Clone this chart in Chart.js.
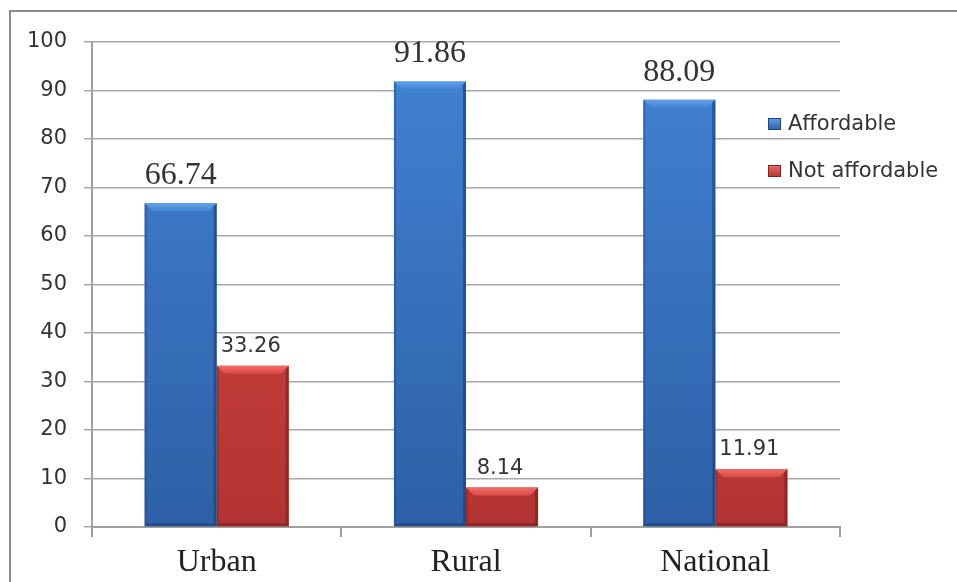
<!DOCTYPE html>
<html lang="en">
<head>
  <meta charset="UTF-8" />
  <title>Affordability by area</title>
  <script src="https://cdn.jsdelivr.net/npm/chart.js"></script>
  <style>
    * { box-sizing: border-box; margin: 0; padding: 0; }
    body { background: #fff; }
    #wrap { width: 957px; height: 582px; position: relative; }
  </style>
</head>
<body>
  <div id="wrap"><canvas id="chart"></canvas></div>

  <script>
    const categories = ['Urban', 'Rural', 'National'];
    const seriesNames = ['Affordable', 'Not affordable'];
    const affordable = [66.74, 91.86, 88.09];
    const notAffordable = [33.26, 8.14, 11.91];
    const yMin = 0, yMax = 100, yStep = 10;

    const SERIF = '"Liberation Serif", "Times New Roman", serif';
    const SANS = '"DejaVu Sans", Verdana, sans-serif';

    // body colour, top bevel, dark edge
    const palette = [
      { top: '#4283d4', bottom: '#2d60a6', light: '#62a0ea', dark: '#1d4680' },
      { top: '#da4a46', bottom: '#b23432', light: '#f06c69', dark: '#862222' }
    ];

    function barFill(idx) {
      return (ctx) => {
        const area = ctx.chart.chartArea;
        if (!area) return palette[idx].top;
        const g = ctx.chart.ctx.createLinearGradient(0, area.top, 0, area.bottom);
        g.addColorStop(0, palette[idx].top);
        g.addColorStop(1, palette[idx].bottom);
        return g;
      };
    }

    // white page plus the thin frame along the top and left
    const framePlugin = {
      id: 'frame',
      beforeDraw(chart) {
        const c = chart.ctx;
        c.save();
        c.fillStyle = '#fff';
        c.fillRect(0, 0, chart.width, chart.height);
        c.strokeStyle = '#8c8c8c';
        c.lineWidth = 2;
        c.beginPath();
        c.moveTo(10, chart.height);
        c.lineTo(10, 11);
        c.lineTo(chart.width, 11);
        c.stroke();
        c.restore();
      }
    };

    // bevelled edges on each bar
    const bevelPlugin = {
      id: 'bevel',
      afterDatasetsDraw(chart) {
        const c = chart.ctx;
        chart.data.datasets.forEach((ds, i) => {
          const p = palette[i];
          chart.getDatasetMeta(i).data.forEach(bar => {
            const { x, y, base, width } = bar.getProps(['x', 'y', 'base', 'width'], true);
            const l = x - width / 2, r = x + width / 2;
            const b = 8;
            c.save();
            // top face
            const tg = c.createLinearGradient(0, y, 0, y + b);
            tg.addColorStop(0, p.light);
            tg.addColorStop(1, p.top);
            c.fillStyle = tg;
            c.beginPath();
            c.moveTo(l, y); c.lineTo(r, y); c.lineTo(r - b, y + b); c.lineTo(l + b, y + b);
            c.closePath(); c.fill();
            // right edge
            c.fillStyle = p.dark;
            c.globalAlpha = 0.75;
            c.beginPath();
            c.moveTo(r, y); c.lineTo(r, base); c.lineTo(r - 3, base - 3); c.lineTo(r - 3, y + 3);
            c.closePath(); c.fill();
            // bottom edge
            c.beginPath();
            c.moveTo(l, base); c.lineTo(r, base); c.lineTo(r - 3, base - 3); c.lineTo(l + 2, base - 3);
            c.closePath(); c.fill();
            // left edge
            c.globalAlpha = 0.45;
            c.beginPath();
            c.moveTo(l, y); c.lineTo(l + 2, y + 2); c.lineTo(l + 2, base - 2); c.lineTo(l, base);
            c.closePath(); c.fill();
            c.restore();
          });
        });
      }
    };

    // value labels above the bars
    const valueLabels = {
      id: 'valueLabels',
      afterDatasetsDraw(chart) {
        const c = chart.ctx;
        const styles = [
          { font: '32px ' + SERIF, gap: 19 },
          { font: '21px ' + SANS, gap: 14 }
        ];
        chart.data.datasets.forEach((ds, i) => {
          chart.getDatasetMeta(i).data.forEach((bar, j) => {
            c.save();
            c.font = styles[i].font;
            c.fillStyle = '#333';
            c.textAlign = 'center';
            c.textBaseline = 'alphabetic';
            c.fillText(ds.data[j].toFixed(2), bar.x + (i === 1 ? -2 : 0), bar.y - styles[i].gap);
            c.restore();
          });
        });
      }
    };

    // legend drawn over the right side of the plot
    const sideLegend = {
      id: 'sideLegend',
      afterDraw(chart) {
        const c = chart.ctx;
        const x = 768, rows = [124, 171];
        chart.data.datasets.forEach((ds, i) => {
          const cy = rows[i];
          const p = palette[i];
          c.save();
          const g = c.createLinearGradient(0, cy - 6, 0, cy + 6);
          g.addColorStop(0, p.light);
          g.addColorStop(1, p.bottom);
          c.fillStyle = g;
          c.fillRect(x, cy - 6, 13, 12);
          c.strokeStyle = p.dark;
          c.lineWidth = 1;
          c.strokeRect(x + 0.5, cy - 5.5, 12, 11);
          c.font = '21px ' + SANS;
          c.fillStyle = '#333';
          c.textBaseline = 'middle';
          c.textAlign = 'left';
          c.fillText(ds.label, x + 20, cy + 1);
          c.restore();
        });
      }
    };

    new Chart(document.getElementById('chart'), {
      type: 'bar',
      data: {
        labels: categories,
        datasets: [
          { label: seriesNames[0], data: affordable, backgroundColor: barFill(0) },
          { label: seriesNames[1], data: notAffordable, backgroundColor: barFill(1) }
        ]
      },
      options: {
        responsive: true,
        maintainAspectRatio: false,
        animation: false,
        devicePixelRatio: 1,
        categoryPercentage: 0.578,
        barPercentage: 1,
        layout: { padding: { top: 42, right: 117, left: 0, bottom: 0 } },
        plugins: { legend: { display: false }, tooltip: { enabled: false } },
        scales: {
          x: {
            grid: { drawOnChartArea: false, color: '#a0a0a0', lineWidth: 2, tickLength: 10 },
            border: { color: '#a0a0a0', width: 2 },
            ticks: { color: '#222', font: { family: SERIF, size: 32 }, padding: 6 },
            afterFit(scale) { scale.height = 55; }
          },
          y: {
            min: yMin,
            max: yMax,
            grid: { color: '#a8a8a8', lineWidth: 1.5, tickLength: 8 },
            border: { color: '#a0a0a0', width: 2 },
            ticks: { stepSize: yStep, color: '#333', font: { family: SANS, size: 21 }, padding: 17 },
            afterFit(scale) { scale.width = 92; }
          }
        }
      },
      plugins: [framePlugin, bevelPlugin, valueLabels, sideLegend]
    });
  </script>
</body>
</html>
